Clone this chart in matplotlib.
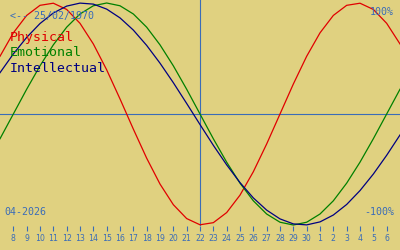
import matplotlib
matplotlib.use("Agg")
import matplotlib.pyplot as plt

# days shown (April 2026, running into May), one value per day
days = list(range(7, 38))
physical = [0.520, 0.731, 0.888, 0.979, 0.998, 0.942, 0.817, 0.631, 0.398, 0.136,
            -0.136, -0.398, -0.631, -0.817, -0.942, -0.998, -0.979, -0.888, -0.731, -0.520,
            -0.270, 0.0, 0.270, 0.520, 0.731, 0.888, 0.979, 0.998, 0.942, 0.817, 0.631]
emotional = [-0.223, 0.0, 0.223, 0.434, 0.623, 0.782, 0.901, 0.975, 1.0, 0.975,
             0.901, 0.782, 0.623, 0.434, 0.223, 0.0, -0.223, -0.434, -0.623, -0.782,
             -0.901, -0.975, -1.0, -0.975, -0.901, -0.782, -0.623, -0.434, -0.223, 0.0, 0.223]
intellectual = [0.372, 0.541, 0.690, 0.815, 0.910, 0.972, 0.999, 0.990, 0.945, 0.866,
                0.756, 0.618, 0.458, 0.282, 0.095, -0.095, -0.282, -0.458, -0.618, -0.756,
                -0.866, -0.945, -0.990, -0.999, -0.972, -0.910, -0.815, -0.690, -0.541, -0.372, -0.189]
today = 22

tick_days = list(range(8, 37))
tick_labels = ['8', '9', '10', '11', '12', '13', '14', '15', '16', '17', '18', '19', '20',
               '21', '22', '23', '24', '25', '26', '27', '28', '29', '30',
               '1', '2', '3', '4', '5', '6']

bg = '#e0d180'
blue = '#3a6cb8'

fig = plt.figure(figsize=(4, 2.5), dpi=100, facecolor=bg)
ax = fig.add_axes([0, 0.096, 1, 0.904])
ax.set_facecolor(bg)

ax.axhline(0, color=blue, lw=0.8)
ax.axvline(today, color=blue, lw=0.8)
ax.plot(days, physical, color='#e00000', lw=0.9, clip_on=False)
ax.plot(days, emotional, color='#008000', lw=0.9, clip_on=False)
ax.plot(days, intellectual, color='#000080', lw=0.9, clip_on=False)

ax.set_xlim(7, 37)
ax.set_ylim(-1.009, 1.027)
for s in ax.spines.values():
    s.set_visible(False)
ax.set_yticks([])
ax.set_xticks(tick_days)
ax.set_xticklabels(tick_labels, fontsize=5.6, color=blue, family='DejaVu Sans')
ax.tick_params(axis='x', direction='out', length=3.6, width=0.8, color=blue, pad=2.2)

mono = 'DejaVu Sans Mono'
fig.text(10 / 400, 1 - 16 / 250, '<-- 25/02/1970', color=blue, fontsize=7.2,
         family=mono, va='center', ha='left')
fig.text(394 / 400, 1 - 12 / 250, '100%', color=blue, fontsize=7.2,
         family=mono, va='center', ha='right')
fig.text(394 / 400, 1 - 212 / 250, '-100%', color=blue, fontsize=7.2,
         family=mono, va='center', ha='right')
fig.text(4 / 400, 1 - 212 / 250, '04-2026', color=blue, fontsize=7.2,
         family=mono, va='center', ha='left')
fig.text(10 / 400, 1 - 38 / 250, 'Physical', color='#e00000', fontsize=9.5,
         family=mono, va='center', ha='left')
fig.text(10 / 400, 1 - 53 / 250, 'Emotional', color='#008000', fontsize=9.5,
         family=mono, va='center', ha='left')
fig.text(10 / 400, 1 - 68 / 250, 'Intellectual', color='#000080', fontsize=9.5,
         family=mono, va='center', ha='left')

fig.savefig('out.png', dpi=100, facecolor=bg)
